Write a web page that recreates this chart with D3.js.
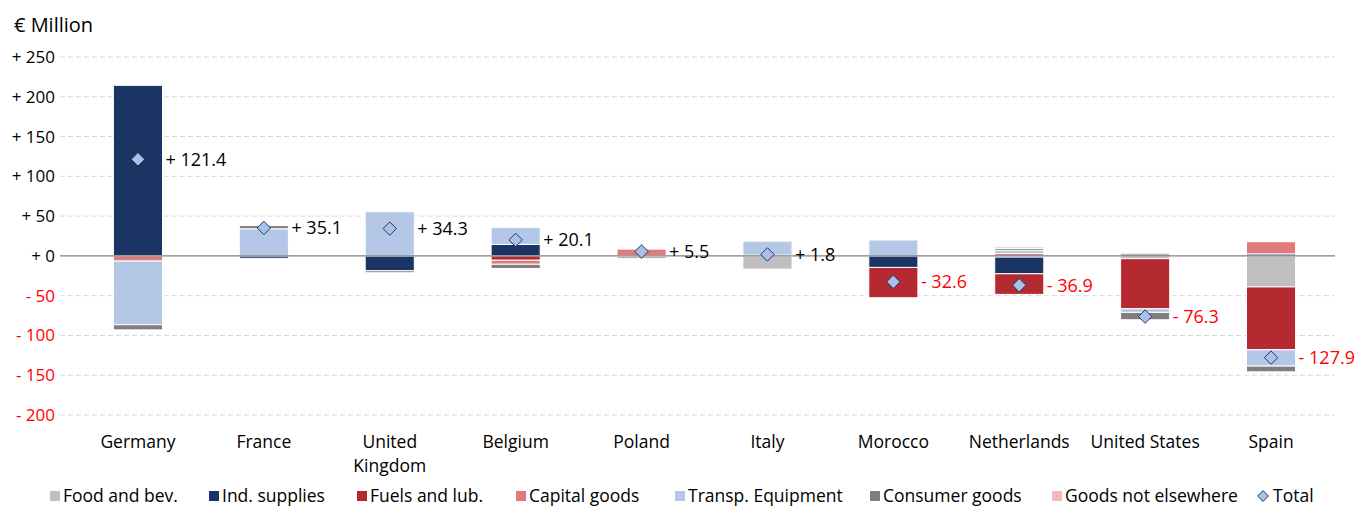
<!DOCTYPE html>
<html><head><meta charset="utf-8">
<script src="https://cdn.jsdelivr.net/npm/d3@7"></script>
<style>body{margin:0;background:#fff}svg{display:block}text{font-family:"Open Sans",sans-serif}</style>
</head><body><svg id="c" width="1354" height="506"></svg>
<script>
const categories = ["Germany","France","United Kingdom","Belgium","Poland","Italy","Morocco","Netherlands","United States","Spain"];
const food     = [0, 0, 0, 0, 0, -16.7, 0, -1.5, -3.5, -39];
const ind      = [214.4, -3, -18.7, 14.4, 0, 0, -14.5, -21, 2.5, 2.5];
const fuels    = [0, 0, 0, -5.5, 0, 0, -38.1, -25.9, -63, -79];
const capital  = [-6.5, 0, 0, -5, 8.5, 1, 0, 3, 1.5, 15.3];
const transp   = [-80, 34.1, 55.5, 21.5, -1, 17.5, 20, 4, -4.5, -20.5];
const consumer = [-6.5, 4, -2.5, -5.3, -2, 0, 0, 2.5, -9.3, -7.2];
const gne      = [0, 0, 0, 0, 0, 0, 0, 2, 0, 0];
const totals   = [121.4, 35.1, 34.3, 20.1, 5.5, 1.8, -32.6, -36.9, -76.3, -127.9];
const yTicks   = [250, 200, 150, 100, 50, 0, -50, -100, -150, -200];
const seriesNames = ["Food and bev.","Ind. supplies","Fuels and lub.","Capital goods","Transp. Equipment","Consumer goods","Goods not elsewhere"];
const seriesValues = [food, ind, fuels, capital, transp, consumer, gne];
const colors = ["#bfbfbf","#1a3563","#b52a30","#e07a7e","#b4c7e7","#7f7f7f","#f4b8b8"];

const svg = d3.select("#c");
const x = d3.scaleBand().domain(categories).range([75, 1334]).paddingInner(0.61).paddingOuter(0.305);
const y = d3.scaleLinear().domain([-200, 250]).range([415, 57]);

const rows = categories.map((c, i) => {
  const r = {cat: c};
  seriesNames.forEach((s, k) => r[s] = seriesValues[k][i]);
  return r;
});
const stack = d3.stack().keys(seriesNames).offset(d3.stackOffsetDiverging)(rows);

// gridlines
svg.append("g").selectAll("line").data(yTicks.filter(t => t !== 0)).join("line")
  .attr("x1", 60).attr("x2", 1335).attr("y1", d => y(d)).attr("y2", d => y(d))
  .attr("stroke", "#d9d9d9").attr("stroke-dasharray", "5,3").attr("stroke-width", 1);

// y labels
const fmt = v => (v < 0 ? "- " : "+ ") + Math.abs(v);
svg.append("g").selectAll("text").data(yTicks).join("text")
  .attr("x", 55).attr("y", d => y(d)).attr("dy", "0.35em").attr("text-anchor", "end")
  .attr("font-size", 17).attr("fill", d => d < 0 ? "#ff0000" : "#000")
  .text(fmt);

svg.append("text").attr("x", 14).attr("y", 32).attr("font-size", 20).text("€ Million");

// bars
svg.append("g").selectAll("g").data(stack).join("g")
  .attr("fill", (d, i) => colors[i])
  .selectAll("rect").data(d => d).join("rect")
  .attr("x", d => x(d.data.cat))
  .attr("width", x.bandwidth())
  .attr("y", d => y(Math.max(d[0], d[1])))
  .attr("height", d => Math.abs(y(d[0]) - y(d[1])))
  .attr("stroke", "#fff").attr("stroke-width", 1);

// zero line
svg.append("line").attr("x1", 60).attr("x2", 1335).attr("y1", y(0)).attr("y2", y(0))
  .attr("stroke", "#808080").attr("stroke-width", 1.2);

// diamonds
const diamond = d3.symbol().type(d3.symbolDiamond2).size(115);
svg.append("g").selectAll("path").data(totals).join("path")
  .attr("transform", (d, i) => `translate(${x(categories[i]) + x.bandwidth()/2},${y(d)})`)
  .attr("d", diamond).attr("fill", "#a9c0e8").attr("stroke", "#1f3864").attr("stroke-width", 1);

// value labels
svg.append("g").selectAll("text").data(totals).join("text")
  .attr("x", (d, i) => x(categories[i]) + x.bandwidth() + 3)
  .attr("y", d => y(d)).attr("dy", "0.35em")
  .attr("font-size", 18).attr("fill", d => d < 0 ? "#ff0000" : "#000")
  .text(d => (d < 0 ? "- " : "+ ") + Math.abs(d).toFixed(1));

// category labels
const catG = svg.append("g");
categories.forEach(c => {
  const cx = x(c) + x.bandwidth()/2;
  const t = catG.append("text").attr("x", cx).attr("y", 448).attr("text-anchor", "middle").attr("font-size", 17.5);
  if (c === "United Kingdom") {
    t.append("tspan").attr("x", cx).text("United");
    t.append("tspan").attr("x", cx).attr("dy", 24).text("Kingdom");
  } else t.text(c);
});

// legend
const legendX = [50, 209, 357, 516, 675, 870, 1052];
const lg = svg.append("g");
seriesNames.forEach((s, i) => {
  lg.append("rect").attr("x", legendX[i]).attr("y", 491).attr("width", 10).attr("height", 10).attr("fill", colors[i]);
  lg.append("text").attr("x", legendX[i] + 13).attr("y", 502).attr("font-size", 17.5).text(s);
});
lg.append("path").attr("transform", "translate(1263,496)").attr("d", d3.symbol().type(d3.symbolDiamond2).size(75))
  .attr("fill", "#a9c0e8").attr("stroke", "#1f3864");
lg.append("text").attr("x", 1273).attr("y", 502).attr("font-size", 17.5).text("Total");
</script></body></html>
